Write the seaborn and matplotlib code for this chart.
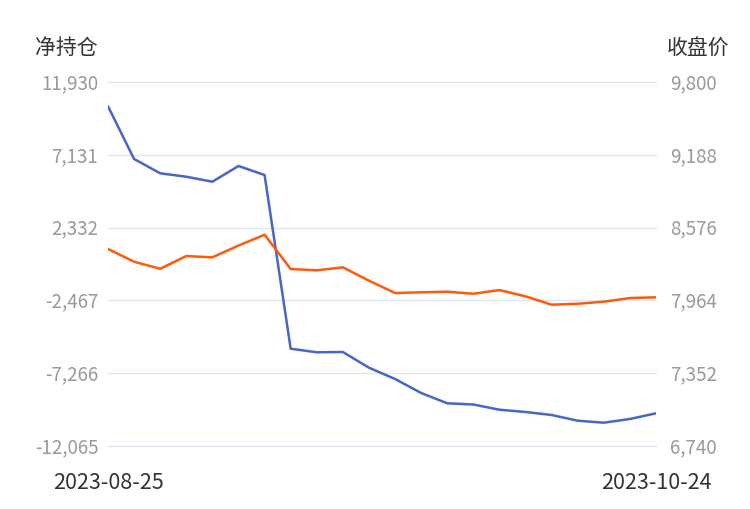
import matplotlib
matplotlib.use("Agg")
import matplotlib.pyplot as plt
import matplotlib.transforms as mtransforms
import seaborn as sns
import pandas as pd

net_position = [10328, 6854, 5911, 5687, 5358, 6393, 5799, -5651, -5888, -5868,
                -6903, -7648, -8571, -9250, -9330, -9672, -9824, -10021, -10397,
                -10529, -10285, -9910]
close_price = [8396, 8289, 8230, 8337, 8326, 8425, 8516, 8228, 8217, 8242,
               8130, 8026, 8032, 8037, 8020, 8051, 7998, 7928, 7936, 7953,
               7984, 7990]
start_label = "2023-08-25"
end_label = "2023-10-24"
left_ticks = [11930, 7131, 2332, -2467, -7266, -12065]
right_ticks = [9800, 9188, 8576, 7964, 7352, 6740]
left_title = "净持仓"
right_title = "收盘价"

sns.set_style("white")
plt.rcParams['font.family'] = ['Noto Sans CJK SC', 'DejaVu Sans']

df = pd.DataFrame({"idx": range(len(net_position)), "net": net_position, "close": close_price})

W, H = 750, 510
fig = plt.figure(figsize=(W / 100, H / 100), dpi=100)
ax = fig.add_axes([108 / W, 1 - 447 / H, (656 - 108) / W, (447 - 83) / H])
ax2 = ax.twinx()

sns.lineplot(data=df, x="idx", y="net", ax=ax, color="#4866c8", linewidth=1.8)
sns.lineplot(data=df, x="idx", y="close", ax=ax2, color="#ff5a0a", linewidth=1.8)

ax.set_ylim(min(left_ticks), max(left_ticks))
ax2.set_ylim(min(right_ticks), max(right_ticks))
ax.set_xlim(0, len(net_position) - 1)

ax.set_yticks(left_ticks)
ax.set_yticklabels([f"{v:,}" for v in left_ticks])
ax2.set_yticks(right_ticks)
ax2.set_yticklabels([f"{v:,}" for v in right_ticks])

ax.set_xticks([0, len(net_position) - 1])
ax.set_xticklabels([start_label, end_label])

for a in (ax, ax2):
    for s in a.spines.values():
        s.set_visible(False)
    a.set_xlabel("")
    a.set_ylabel("")
    a.tick_params(axis="both", length=0)

ax.tick_params(axis="y", labelsize=13.5, labelcolor="#999999", pad=7)
ax2.tick_params(axis="y", labelsize=13.5, labelcolor="#999999", pad=10)
ax.tick_params(axis="x", labelsize=15.5, labelcolor="#333333", pad=18)

# nudge y tick labels up slightly to sit centred on the grid lines
shift = mtransforms.ScaledTranslation(0, 2 / 100, fig.dpi_scale_trans)
for a in (ax, ax2):
    for lbl in a.get_yticklabels():
        lbl.set_transform(lbl.get_transform() + shift)

ax.grid(axis="y", color="#e0e6f1", linewidth=1)
ax.grid(axis="x", visible=False)
for gl in ax.get_ygridlines():
    gl.set_clip_on(False)
ax2.grid(False)
ax.set_zorder(ax2.get_zorder() - 1)
ax.patch.set_visible(False)
ax2.patch.set_visible(False)

fig.text(66 / W, 1 - 48 / H, left_title, fontsize=15, color="#333333", ha="center", va="center")
fig.text(698 / W, 1 - 48 / H, right_title, fontsize=15, color="#333333", ha="center", va="center")

fig.savefig("out.png", dpi=100)
